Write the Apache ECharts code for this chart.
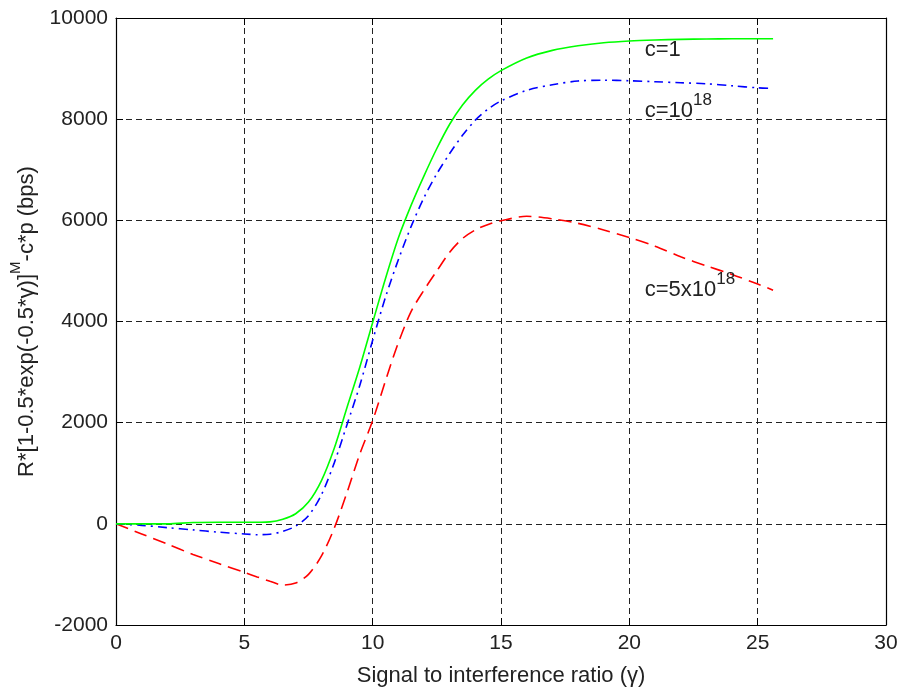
<!DOCTYPE html>
<html>
<head>
<meta charset="utf-8">
<script src="https://cdn.jsdelivr.net/npm/echarts@6/dist/echarts.min.js"></script>
<style>
html,body{margin:0;padding:0;background:#fff;}
#chart{width:904px;height:692px;}
</style>
</head>
<body>
<div id="chart"></div>
<script>
// Signal to interference ratio (γ) sample points
const gammaValues = [0,1,2,3,4,5,5.5,6,6.5,7,7.5,8,8.5,9,9.5,10,10.5,11,11.5,12,12.5,13,13.5,14,14.5,15,16,17,18,19,20,21,22,23,24,25,25.6];
// c = 1
const seriesC1 = [0,0,0,25,30,30,32,38,90,200,430,850,1490,2300,3100,3980,4850,5650,6300,6880,7420,7900,8280,8570,8790,8960,9210,9360,9450,9510,9545,9565,9578,9585,9590,9590,9590];
// c = 10^18
const seriesC1e18 = [0,-30,-75,-120,-165,-200,-215,-205,-150,-45,160,570,1200,1960,2740,3630,4480,5220,5880,6450,6920,7320,7680,7980,8200,8360,8570,8680,8755,8770,8760,8740,8720,8700,8660,8620,8610];
// c = 5x10^18
const seriesC5e18 = [0,-200,-400,-605,-785,-960,-1050,-1135,-1210,-1170,-1000,-640,-90,620,1380,2040,2830,3580,4200,4620,5000,5370,5640,5810,5920,5990,6080,6030,5940,5810,5660,5490,5280,5100,4930,4740,4620];

const xTicks = {min:0, max:30, interval:5};
const yTicks = {min:-2000, max:10000, interval:2000};

const xTitle = 'Signal to interference ratio (γ)';
const yTitleParts = ['R*[1-0.5*exp(-0.5*γ)]', 'M', '-c*p (bps)'];

// annotation anchors in data coordinates: [x, y, base, superscript]
const annotations = [
  [20.6, 9450, 'c=1', ''],
  [20.6, 8250, 'c=10', '18'],
  [20.6, 4700, 'c=5x10', '18']
];

const FONT = 'Liberation Sans, Arial, sans-serif';
const pairs = arr => gammaValues.map((g,i)=>[g, arr[i]]);

const chart = echarts.init(document.getElementById('chart'), null, {renderer:'canvas'});

const gridLine = {show:true, lineStyle:{color:'#222', width:1, type:[6,4]}};

const option = {
  animation:false,
  backgroundColor:'#fff',
  grid:{left:116, right:18, top:18, bottom:67, containLabel:false, outerBoundsMode:'none', show:false},
  xAxis:[{
    type:'value', min:xTicks.min, max:xTicks.max, interval:xTicks.interval,
    position:'bottom',
    axisLine:{show:true, onZero:false, lineStyle:{color:'#000', width:1.2}},
    axisTick:{show:true, inside:true, length:7, lineStyle:{color:'#000'}},
    axisLabel:{color:'#222', fontSize:21, fontFamily:FONT, margin:8},
    splitLine:gridLine,
    name:xTitle, nameLocation:'middle', nameGap:40,
    nameTextStyle:{color:'#222', fontSize:22, fontFamily:FONT}
  },{
    type:'value', min:xTicks.min, max:xTicks.max, interval:xTicks.interval,
    position:'top',
    axisLine:{show:true, onZero:false, lineStyle:{color:'#000', width:1.2}},
    axisTick:{show:true, inside:true, length:7, lineStyle:{color:'#000'}},
    axisLabel:{show:false}, splitLine:{show:false}
  }],
  yAxis:[{
    type:'value', min:yTicks.min, max:yTicks.max, interval:yTicks.interval,
    position:'left',
    axisLine:{show:true, onZero:false, lineStyle:{color:'#000', width:1.2}},
    axisTick:{show:true, inside:true, length:7, lineStyle:{color:'#000'}},
    axisLabel:{color:'#222', fontSize:21, fontFamily:FONT, margin:8, formatter:v=>String(v)},
    splitLine:gridLine,
    name:'{b|'+yTitleParts[0]+'}{s|'+yTitleParts[1]+'}{b|'+yTitleParts[2]+'}',
    nameLocation:'middle', nameGap:78, nameRotate:90,
    nameTextStyle:{
      color:'#222', fontFamily:FONT, fontSize:22,
      rich:{
        b:{fontSize:22, fontFamily:FONT, color:'#222', lineHeight:30, verticalAlign:'bottom'},
        s:{fontSize:15, fontFamily:FONT, color:'#222', lineHeight:15, verticalAlign:'top'}
      }
    }
  },{
    type:'value', min:yTicks.min, max:yTicks.max, interval:yTicks.interval,
    position:'right',
    axisLine:{show:true, onZero:false, lineStyle:{color:'#000', width:1.2}},
    axisTick:{show:true, inside:true, length:7, lineStyle:{color:'#000'}},
    axisLabel:{show:false}, splitLine:{show:false}
  }],
  series:[
    {name:'c=1', type:'line', data:pairs(seriesC1), showSymbol:false, smooth:0.3,
     lineStyle:{color:'#00ff00', width:1.6, type:'solid'}, z:5},
    {name:'c=10^18', type:'line', data:pairs(seriesC1e18), showSymbol:false, smooth:0.3,
     lineStyle:{color:'#0000ff', width:1.6, type:[9,5,2,5]}, z:4},
    {name:'c=5x10^18', type:'line', data:pairs(seriesC5e18), showSymbol:false, smooth:0.3,
     lineStyle:{color:'#ff0000', width:1.6, type:[13,7]}, z:3}
  ]
};
chart.setOption(option);

const graphics = annotations.map(a=>{
  const p = chart.convertToPixel({xAxisIndex:0, yAxisIndex:0}, [a[0], a[1]]);
  const txt = a[3] ? '{b|'+a[2]+'}{s|'+a[3]+'}' : '{b|'+a[2]+'}';
  return {
    type:'text', x:p[0], y:p[1], z:10,
    style:{
      text:txt, textAlign:'left', textVerticalAlign:'middle',
      fill:'#222', font:'22px '+FONT,
      rich:{
        b:{fontSize:22, fontFamily:FONT, fill:'#222', lineHeight:30, verticalAlign:'bottom'},
        s:{fontSize:17, fontFamily:FONT, fill:'#222', lineHeight:17, verticalAlign:'top'}
      }
    }
  };
});
chart.setOption({graphic:graphics});
</script>
</body>
</html>
